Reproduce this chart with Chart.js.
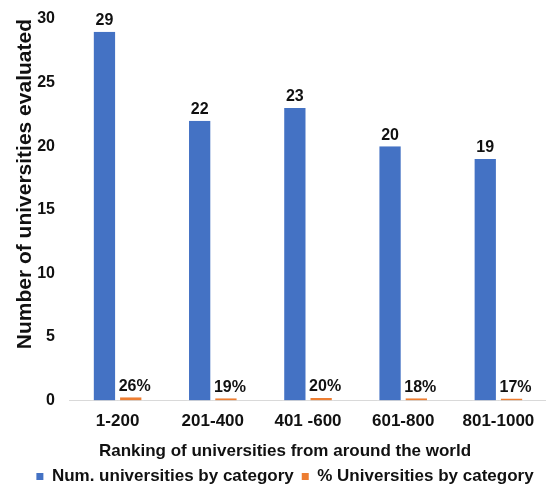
<!DOCTYPE html>
<html>
<head>
<meta charset="utf-8">
<script src="https://cdn.jsdelivr.net/npm/chart.js@4/dist/chart.umd.min.js"></script>
<style>
  html, body { margin: 0; padding: 0; background: #fff; }
  #wrap { width: 546px; height: 485px; }
</style>
</head>
<body>
<div id="wrap"><canvas id="c" width="546" height="485"></canvas></div>
<script>
// Ranking brackets and the two series shown per bracket
const categories = ['1-200', '201-400', '401 -600', '601-800', '801-1000'];
const numUniversities = [29, 22, 23, 20, 19];
const pctUniversities = [0.26, 0.19, 0.20, 0.18, 0.17];
const yTicks = [0, 5, 10, 15, 20, 25, 30];

const FONT = "'Liberation Sans', Arial, sans-serif";
const INK = '#111111';

// Writes each bar's value just above it (percent bars as "26%")
const valueLabels = {
  id: 'valueLabels',
  afterDatasetsDraw(chart) {
    const ctx = chart.ctx;
    ctx.save();
    ctx.font = 'bold 16px ' + FONT;
    ctx.fillStyle = INK;
    ctx.textAlign = 'center';
    ctx.textBaseline = 'bottom';
    chart.data.datasets.forEach((ds, i) => {
      const meta = chart.getDatasetMeta(i);
      meta.data.forEach((bar, j) => {
        const v = ds.data[j];
        const isPct = i === 1;
        const txt = isPct ? Math.round(v * 100) + '%' : String(v);
        ctx.fillText(txt, bar.x + (isPct ? 4 : 0), bar.y - 3);
      });
    });
    ctx.restore();
  }
};

new Chart(document.getElementById('c'), {
  type: 'bar',
  data: {
    labels: categories,
    datasets: [
      {
        label: 'Num. universities by category',
        data: numUniversities,
        backgroundColor: '#4472C4',
        borderColor: '#ffffff',
        borderWidth: { left: 2.5, right: 2.5, top: 0, bottom: 0 },
        borderSkipped: false
      },
      {
        label: '% Universities by category',
        data: pctUniversities,
        backgroundColor: '#ED7D31',
        borderColor: '#ffffff',
        borderWidth: { left: 2.5, right: 2.5, top: 0, bottom: 0 },
        borderSkipped: false
      }
    ]
  },
  options: {
    responsive: false,
    animation: false,
    devicePixelRatio: 1,
    layout: { padding: { top: 0, right: -5, left: 19, bottom: -10 } },
    datasets: {
      bar: { categoryPercentage: 0.552, barPercentage: 1.0 }
    },
    plugins: {
      tooltip: { enabled: false },
      // axis caption under the category labels, centred on the whole figure
      title: {
        display: true,
        position: 'bottom',
        weight: 500,
        text: 'Ranking of universities from around the world',
        color: INK,
        padding: { top: 0, bottom: 0 },
        font: { family: FONT, size: 17, weight: 'bold', lineHeight: 1 }
      },
      legend: {
        position: 'bottom',
        labels: {
          boxWidth: 7,
          boxHeight: 7,
          padding: 8,
          color: INK,
          font: { family: FONT, size: 17, weight: 'bold' },
          generateLabels(chart) {
            return chart.data.datasets.map((ds, i) => ({
              text: ds.label,
              fillStyle: ds.backgroundColor,
              strokeStyle: ds.backgroundColor,
              lineWidth: 0,
              fontColor: INK,
              datasetIndex: i
            }));
          }
        }
      }
    },
    scales: {
      x: {
        grid: { display: false, drawTicks: false },
        border: { display: true, color: '#d9d9d9', width: 1 },
        ticks: {
          color: INK,
          padding: 11,
          font: { family: FONT, size: 17, weight: 'bold' }
        }
      },
      y: {
        min: 0,
        max: 30,
        afterBuildTicks(axis) {
          axis.ticks = yTicks.map(v => ({ value: v }));
        },
        grid: { display: false, drawTicks: false },
        border: { display: false },
        ticks: {
          color: INK,
          padding: 15,
          font: { family: FONT, size: 16, weight: 'bold', lineHeight: 0.5 }
        },
        title: {
          display: true,
          align: 'end',
          text: 'Number of universities evaluated',
          color: INK,
          padding: { top: -6.6, bottom: -15.4 },
          font: { family: FONT, size: 21, weight: 'bold' }
        }
      }
    }
  },
  plugins: [valueLabels]
});
</script>
</body>
</html>
